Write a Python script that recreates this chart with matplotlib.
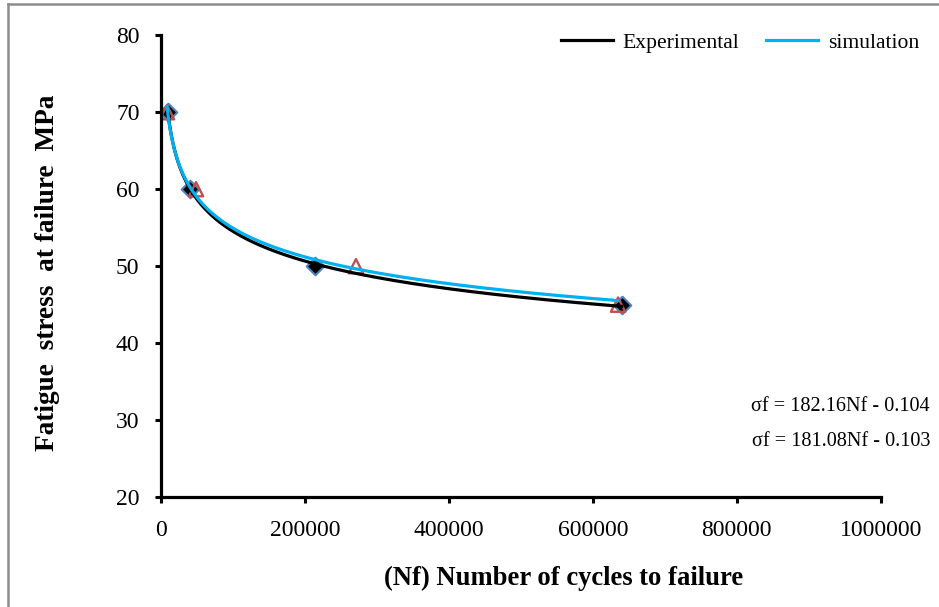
import numpy as np
import matplotlib.pyplot as plt
from matplotlib.lines import Line2D

# data
exp_cycles = [9700, 40000, 213900, 640000]
exp_stress = [70, 60, 50, 45]
sim_cycles = [8300, 48600, 270800, 635000]
sim_stress = [70, 60, 50, 45]

x_ticks = [0, 200000, 400000, 600000, 800000, 1000000]
y_ticks = [20, 30, 40, 50, 60, 70, 80]

plt.rcParams['font.family'] = ['Liberation Serif', 'DejaVu Serif']

fig = plt.figure(figsize=(9.39, 6.07), dpi=100)
ax = fig.add_axes([0.1715, 0.181, 0.7665, 0.761])

# gray frame, only top and left edges are visible in the crop
fig.lines.append(Line2D([0.009, 0.009], [0, 0.994], transform=fig.transFigure,
                        color='#8c8c8c', linewidth=1.8))
fig.lines.append(Line2D([0.009, 1], [0.994, 0.994], transform=fig.transFigure,
                        color='#8c8c8c', linewidth=1.8))


# power trend lines, fitted in log space like Excel does
def power_fit(x, y):
    b, log_a = np.polyfit(np.log(x), np.log(y), 1)
    xs = np.linspace(min(x), max(x), 300)
    return xs, np.exp(log_a) * xs ** b


ax.scatter(exp_cycles, exp_stress, marker='D', s=80, facecolor='black',
           edgecolor='#4f81bd', linewidth=1.5, zorder=2)
ax.scatter(sim_cycles, sim_stress, marker='^', s=105, facecolor='none',
           edgecolor='#c0504d', linewidth=1.7, zorder=2)

xs, ys = power_fit(exp_cycles, exp_stress)
ax.plot(xs, ys, color='black', linewidth=2.3, label='Experimental', zorder=3)
xs, ys = power_fit(sim_cycles, sim_stress)
ax.plot(xs, ys, color='#00b0f0', linewidth=2.3, label='simulation', zorder=4)

ax.set_xlim(0, 1000000)
ax.set_ylim(20, 80)
ax.set_xticks(x_ticks)
ax.set_xticklabels([str(t) for t in x_ticks])
ax.set_yticks(y_ticks)
ax.tick_params(axis='both', labelsize=17, width=2.2, length=4.5, direction='out')
ax.tick_params(axis='x', pad=12)
ax.tick_params(axis='y', pad=11)
for side in ['top', 'right']:
    ax.spines[side].set_visible(False)
for side in ['left', 'bottom']:
    ax.spines[side].set_linewidth(2.3)

fig.text(0.6006, 0.047, '(Nf) Number of cycles to failure', ha='center', va='center',
         fontsize=19.2, fontweight='bold')
fig.text(0.051, 0.551, 'Fatigue  stress  at failure  MPa', ha='center', va='center',
         rotation=90, fontsize=19.6, fontweight='bold')

ax.legend(loc='center right', bbox_to_anchor=(0.979, 0.93), bbox_transform=fig.transFigure,
          ncol=2, frameon=False, fontsize=15.6, handlelength=2.4, handletextpad=0.45,
          columnspacing=1.25, borderpad=0, borderaxespad=0)

fig.text(0.9905, 0.330, 'σf = 182.16Nf - 0.104', ha='right', va='center', fontsize=14.6)
fig.text(0.9905, 0.273, 'σf = 181.08Nf - 0.103', ha='right', va='center', fontsize=14.6)

fig.savefig('out.png', dpi=100)
